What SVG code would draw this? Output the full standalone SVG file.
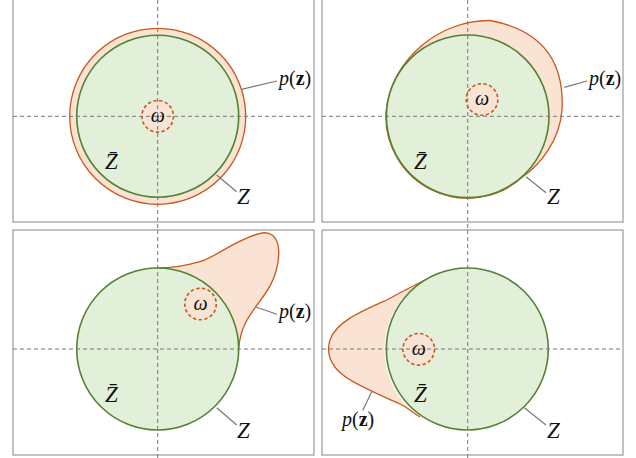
<svg xmlns="http://www.w3.org/2000/svg" width="636" height="458" viewBox="0 0 636 458">
<style>
.frame{fill:none;stroke:#999;stroke-width:1.2}
.axis{fill:none;stroke:#777;stroke-width:1;stroke-dasharray:4 3}
.zfill{fill:#e2efd9;stroke:#548235;stroke-width:1.6}
.pfill{fill:#fbe3d4;stroke:#c9571a;stroke-width:1.3}
.pf{fill:#fbe3d4;stroke:none}
.ps{fill:none;stroke:#c9571a;stroke-width:1.3}
.om{fill:#f8e4d4;stroke:#c9571a;stroke-width:1.6;stroke-dasharray:3.4 2.4}
.lead{fill:none;stroke:#777;stroke-width:1.2}
.lab{font-size:20px}
.zl{font-size:23px;font-style:italic}
.w{font-size:20px;font-style:italic}
</style>
<rect width="636" height="458" fill="#fff"/>

<g id="panel-top-left">
  <rect class="frame" x="13" y="-3" width="301" height="225"/>
  <circle class="pfill" cx="157.7" cy="116.3" r="88"/>
  <circle class="zfill" cx="157.7" cy="116.3" r="81"/>
  <circle class="om" cx="157.7" cy="116.3" r="15.8"/>
  <line class="axis" x1="13" y1="116.3" x2="314" y2="116.3"/>
  <line class="axis" x1="157.7" y1="0" x2="157.7" y2="230"/>
  <text class="w" x="157.7" y="122" text-anchor="middle" font-family="Liberation Serif, serif" fill="#111">ω</text>
  <text class="zl" x="105" y="169" font-family="Liberation Serif, serif" fill="#111">Z̄</text>
  <text class="zl" x="237" y="204" font-family="Liberation Serif, serif" fill="#111">Z</text>
  <text class="lab" x="279" y="85" font-family="Liberation Serif, serif" fill="#111"><tspan font-style="italic">p</tspan>(<tspan font-weight="bold">z</tspan>)</text>
</g>

<g id="panel-top-right">
  <rect class="frame" x="322" y="-3" width="301" height="225"/>
  <path class="pfill" d="M523,176.5 C540,165 560,140 562,110 C564,72 552,32 490,20.5 C440,20 392,58 386,112 A81.7 81.7 0 0 0 523,176.5 Z"/>
  <circle class="zfill" cx="467.7" cy="116.3" r="81.3"/>
  <circle class="om" cx="482" cy="99.5" r="15.8"/>
  <line class="axis" x1="322" y1="116.3" x2="623" y2="116.3"/>
  <line class="axis" x1="467.7" y1="0" x2="467.7" y2="230"/>
  <text class="w" x="482" y="105.2" text-anchor="middle" font-family="Liberation Serif, serif" fill="#111">ω</text>
  <text class="zl" x="414" y="169" font-family="Liberation Serif, serif" fill="#111">Z̄</text>
  <text class="zl" x="547" y="204" font-family="Liberation Serif, serif" fill="#111">Z</text>
  <text class="lab" x="589" y="85" font-family="Liberation Serif, serif" fill="#111"><tspan font-style="italic">p</tspan>(<tspan font-weight="bold">z</tspan>)</text>
</g>

<g id="panel-bottom-left">
  <rect class="frame" x="13" y="230" width="301" height="225"/>
  <path class="pf" d="M157.7,268 C172,268 185,266 200,261.7 S235,240 260,233.3 C270,231 277,236 278.5,248 C280,262 275,280 265,294 C252,312 240,325 238.7,349 A81 81 0 0 0 157.7,268 Z"/>
  <path class="ps" d="M157.7,268 C172,268 185,266 200,261.7 S235,240 260,233.3 C270,231 277,236 278.5,248 C280,262 275,280 265,294 C252,312 240,325 238.7,349"/>
  <circle class="zfill" cx="157.7" cy="349" r="81"/>
  <circle class="om" cx="200.5" cy="304" r="15.8"/>
  <line class="axis" x1="13" y1="349" x2="314" y2="349"/>
  <line class="axis" x1="157.7" y1="230" x2="157.7" y2="458"/>
  <text class="w" x="200.5" y="309.7" text-anchor="middle" font-family="Liberation Serif, serif" fill="#111">ω</text>
  <text class="zl" x="105" y="401.5" font-family="Liberation Serif, serif" fill="#111">Z̄</text>
  <text class="zl" x="237" y="438" font-family="Liberation Serif, serif" fill="#111">Z</text>
  <text class="lab" x="279" y="318" font-family="Liberation Serif, serif" fill="#111"><tspan font-style="italic">p</tspan>(<tspan font-weight="bold">z</tspan>)</text>
</g>

<g id="panel-bottom-right">
  <rect class="frame" x="322" y="230" width="301" height="225"/>
  <path class="pf" d="M440,273 C420,282 405,290 386.7,300 C360,312 336,322 330,340 C326,352 330,365 343,375 C355,385 385,397 400,404 C410,409 415,414 420,417 A81 81 0 0 1 440,273 Z"/>
  <path class="ps" d="M440,273 C420,282 405,290 386.7,300 C360,312 336,322 330,340 C326,352 330,365 343,375 C355,385 385,397 400,404 C410,409 415,414 420,417"/>
  <circle class="zfill" cx="467.3" cy="349" r="81"/>
  <circle class="om" cx="418.7" cy="349.3" r="15.8"/>
  <line class="axis" x1="322" y1="349" x2="623" y2="349"/>
  <line class="axis" x1="467.7" y1="230" x2="467.7" y2="458"/>
  <text class="w" x="418.7" y="355" text-anchor="middle" font-family="Liberation Serif, serif" fill="#111">ω</text>
  <text class="zl" x="414" y="401.5" font-family="Liberation Serif, serif" fill="#111">Z̄</text>
  <text class="zl" x="547" y="438" font-family="Liberation Serif, serif" fill="#111">Z</text>
  <text class="lab" x="342" y="426" font-family="Liberation Serif, serif" fill="#111"><tspan font-style="italic">p</tspan>(<tspan font-weight="bold">z</tspan>)</text>
</g>

<g id="connectors">
  <line class="lead" x1="241.7" y1="89.3" x2="277" y2="81"/>
  <line class="lead" x1="216.7" y1="175" x2="236.7" y2="191.7"/>
  <line class="lead" x1="564.3" y1="87.3" x2="587" y2="81"/>
  <line class="lead" x1="526" y1="176.7" x2="546" y2="192.7"/>
  <line class="lead" x1="255" y1="306.7" x2="277" y2="314.3"/>
  <line class="lead" x1="216.7" y1="407.7" x2="236.7" y2="425"/>
  <line class="lead" x1="371.7" y1="391.7" x2="362.7" y2="410.5"/>
  <line class="lead" x1="524.3" y1="407.7" x2="546" y2="425"/>
</g>
</svg>
